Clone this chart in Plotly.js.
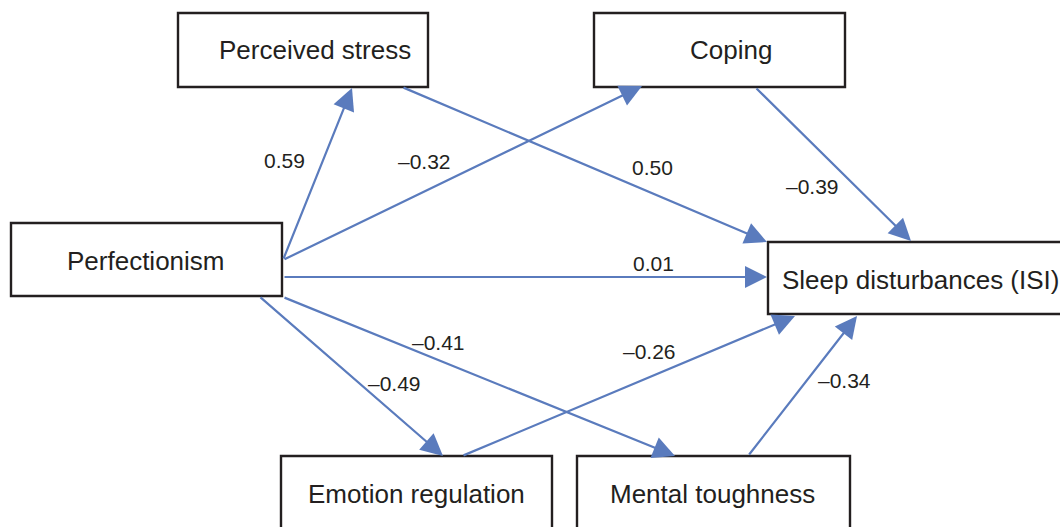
<!DOCTYPE html>
<html>
<head>
<meta charset="utf-8">
<script src="https://cdn.plot.ly/plotly-3.0.1.min.js"></script>
<style>html,body{margin:0;padding:0;background:#fff;}#chart{width:1060px;height:527px;}</style>
</head>
<body>
<div id="chart"></div>
<script>
// ---- data ----
const nodes = ["Perfectionism", "Perceived stress", "Coping", "Emotion regulation", "Mental toughness", "Sleep disturbances (ISI)"];
const pathFrom = ["Perfectionism", "Perfectionism", "Perceived stress", "Coping", "Perfectionism", "Perfectionism", "Perfectionism", "Emotion regulation", "Mental toughness"];
const pathTo = ["Perceived stress", "Coping", "Sleep disturbances (ISI)", "Sleep disturbances (ISI)", "Sleep disturbances (ISI)", "Emotion regulation", "Mental toughness", "Sleep disturbances (ISI)", "Sleep disturbances (ISI)"];
const coefficients = ["0.59", "\u20130.32", "0.50", "\u20130.39", "0.01", "\u20130.49", "\u20130.41", "\u20130.26", "\u20130.34"];

// ---- geometry (layout only) ----
const boxGeom = {
  "Perfectionism":            {x0: 11,  x1: 282,  y0: 223, y1: 296, tx: 146, ty: 261, anchor: "center"},
  "Perceived stress":         {x0: 178, x1: 428,  y0: 13,  y1: 87,  tx: 315, ty: 50,  anchor: "center"},
  "Coping":                   {x0: 594, x1: 845,  y0: 13,  y1: 87,  tx: 731, ty: 50,  anchor: "center"},
  "Emotion regulation":       {x0: 281, x1: 552,  y0: 456, y1: 545, tx: 416, ty: 494, anchor: "center"},
  "Mental toughness":         {x0: 577, x1: 850,  y0: 456, y1: 545, tx: 712, ty: 494, anchor: "center"},
  "Sleep disturbances (ISI)": {x0: 768, x1: 1080, y0: 242, y1: 314, tx: 780, ty: 280, anchor: "left"}
};
// tail (x,y) -> tip (x,y) per path, label position
const pathGeom = [
  {tx: 283, ty: 260, hx: 352, hy: 88,  lx: 284, ly: 160},
  {tx: 283, ty: 260, hx: 642, hy: 86,  lx: 424, ly: 161},
  {tx: 402, ty: 87,  hx: 767, hy: 242, lx: 652, ly: 167},
  {tx: 755, ty: 87,  hx: 911, hy: 241, lx: 812, ly: 186},
  {tx: 283, ty: 277, hx: 767, hy: 277, lx: 653, ly: 263},
  {tx: 259, ty: 296, hx: 443, hy: 456, lx: 394, ly: 383},
  {tx: 283, ty: 297, hx: 675, hy: 456, lx: 438, ly: 342},
  {tx: 462, ty: 456, hx: 795, hy: 316, lx: 649, ly: 351},
  {tx: 748, ty: 456, hx: 857, hy: 316, lx: 844, ly: 380}
];

const FONT = "Liberation Sans, Arial, Helvetica, sans-serif";
const TEXT = "#231f20";
const ARROW = "#5a7bbd";

const shapes = [];
const annotations = [];

pathFrom.forEach((f, i) => {
  const g = pathGeom[i];
  annotations.push({
    x: g.hx, y: g.hy, ax: g.tx, ay: g.ty,
    xref: "x", yref: "y", axref: "x", ayref: "y",
    text: "", showarrow: true, arrowhead: 2, arrowsize: 2, arrowwidth: 2.2,
    arrowcolor: ARROW, standoff: 0, startstandoff: 0
  });
  annotations.push({
    x: g.lx, y: g.ly, xref: "x", yref: "y", text: coefficients[i],
    showarrow: false, font: {family: FONT, size: 21, color: TEXT},
    xanchor: "center", yanchor: "middle"
  });
});

nodes.forEach(n => {
  const b = boxGeom[n];
  shapes.push({type: "rect", xref: "x", yref: "y", x0: b.x0, x1: b.x1, y0: b.y0, y1: b.y1,
    line: {color: TEXT, width: 2.4}, fillcolor: "#ffffff", layer: "above"});
  annotations.push({
    x: b.tx, y: b.ty, xref: "x", yref: "y", text: n, showarrow: false,
    font: {family: FONT, size: 26, color: TEXT},
    xanchor: b.anchor, yanchor: "middle"
  });
});

const layout = {
  width: 1060, height: 527,
  margin: {l: 0, r: 0, t: 0, b: 0},
  paper_bgcolor: "#ffffff", plot_bgcolor: "#ffffff",
  xaxis: {range: [0, 1060], visible: false, fixedrange: true},
  yaxis: {range: [527, 0], visible: false, fixedrange: true},
  showlegend: false,
  shapes: shapes,
  annotations: annotations
};

Plotly.newPlot("chart", [{x: [], y: [], type: "scatter", mode: "markers", hoverinfo: "skip"}], layout, {displayModeBar: false, staticPlot: true});
</script>
</body>
</html>
